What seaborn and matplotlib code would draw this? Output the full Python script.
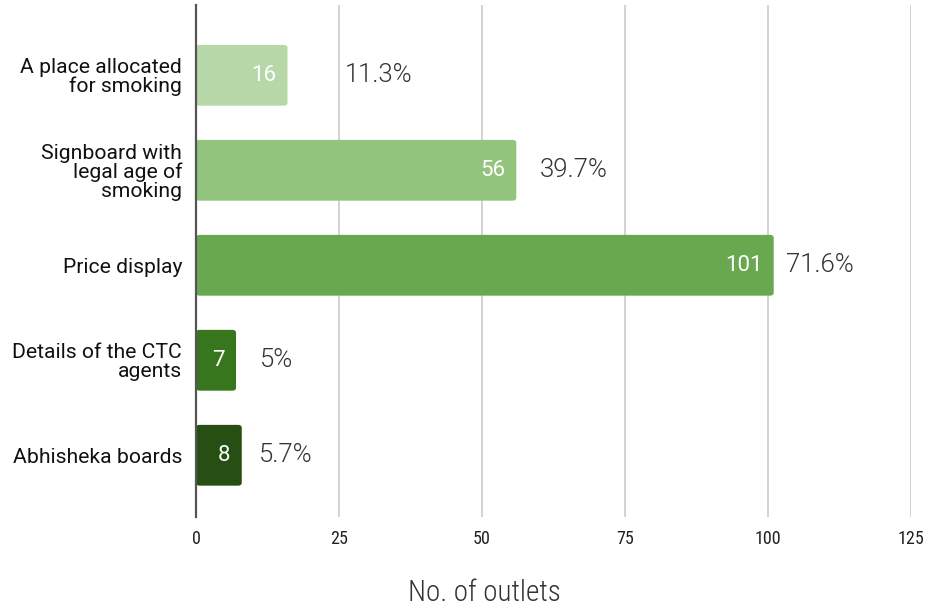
import matplotlib
matplotlib.use("Agg")
import matplotlib.pyplot as plt
import seaborn as sns
import pandas as pd
from matplotlib import font_manager as fm
from matplotlib.patches import FancyBboxPatch

categories = [
    "A place allocated\nfor smoking",
    "Signboard with\nlegal age of\nsmoking",
    "Price display",
    "Details of the CTC\nagents",
    "Abhisheka boards",
]
counts = [16, 56, 101, 7, 8]
percent_labels = ["11.3%", "39.7%", "71.6%", "5%", "5.7%"]
bar_colors = ["#b7d7a8", "#93c47d", "#6aa84f", "#38761d", "#274e13"]
x_ticks = [0, 25, 50, 75, 100, 125]

# horizontal gap (points) between each bar end and its percentage label
pct_offsets = [41, 17, 9, 17, 12]


def font_file(filename, fallback_family):
    for f in fm.fontManager.ttflist:
        if f.fname.endswith("/" + filename):
            return dict(fname=f.fname)
    return dict(family=fallback_family)


def fprop(filename, size, fallback_family="DejaVu Sans"):
    return fm.FontProperties(size=size, **font_file(filename, fallback_family))


df = pd.DataFrame({"category": categories, "count": counts})

sns.set_theme(style="white")
plt.rcParams["font.family"] = ["Roboto", "DejaVu Sans"]

fig = plt.figure(figsize=(9.31, 6.07), dpi=100)
ax = fig.add_axes([196 / 931, 1 - 517 / 607, 715 / 931, 512 / 607])

sns.barplot(data=df, x="count", y="category", hue="category",
            palette=bar_colors, legend=False, width=0.64, ax=ax,
            saturation=1, edgecolor="none")

# replace the plain rectangles with slightly rounded ones
for patch, color in zip(list(ax.patches), bar_colors):
    x0, y0 = patch.get_x(), patch.get_y()
    w, h = patch.get_width(), patch.get_height()
    patch.set_visible(False)
    fancy = FancyBboxPatch((x0, y0), w, h,
                           boxstyle="round,pad=0,rounding_size=0.6",
                           mutation_aspect=0.055,
                           facecolor=color, edgecolor="none", zorder=3)
    ax.add_patch(fancy)

ax.set_xlim(0, 125)
ax.set_ylim(4.65, -0.74)
ax.set_xticks(x_ticks)
tick_font = fprop("RobotoCondensed-Regular.ttf", 13)
ax.set_xticklabels([str(t) for t in x_ticks], fontproperties=tick_font,
                   color="#222222")
ax.tick_params(axis="x", length=0, pad=9)
ax.tick_params(axis="y", length=0, pad=10)
for lbl in ax.get_yticklabels():
    lbl.set_fontsize(15.2)
    lbl.set_color("#111111")
    lbl.set_horizontalalignment("right")
    lbl.set_multialignment("right")
    lbl.set_linespacing(0.98)

ax.grid(axis="x", color="#cccccc", linewidth=1.2, zorder=0)
ax.set_axisbelow(True)
for side in ["top", "right", "bottom"]:
    ax.spines[side].set_visible(False)
ax.spines["left"].set_color("#555555")
ax.spines["left"].set_linewidth(1.6)
ax.spines["left"].set_zorder(4)

ax.set_ylabel("")
ax.set_xlabel("No. of outlets", fontproperties=fprop("RobotoCondensed-Light.ttf", 21),
              color="#333333")
ax.xaxis.set_label_coords(0.4035, -0.122)

pct_font = fprop("Roboto-Light.ttf", 18.5)
for i, (val, pct, off) in enumerate(zip(counts, percent_labels, pct_offsets)):
    ax.annotate(str(val), xy=(val, i), xytext=(-8, 0),
                textcoords="offset points", ha="right", va="center",
                fontsize=16, color="white", zorder=5)
    ax.annotate(pct, xy=(val, i), xytext=(off, 0),
                textcoords="offset points", ha="left", va="center",
                fontproperties=pct_font, color="#333333", zorder=5)

fig.savefig("out.png", dpi=100)
